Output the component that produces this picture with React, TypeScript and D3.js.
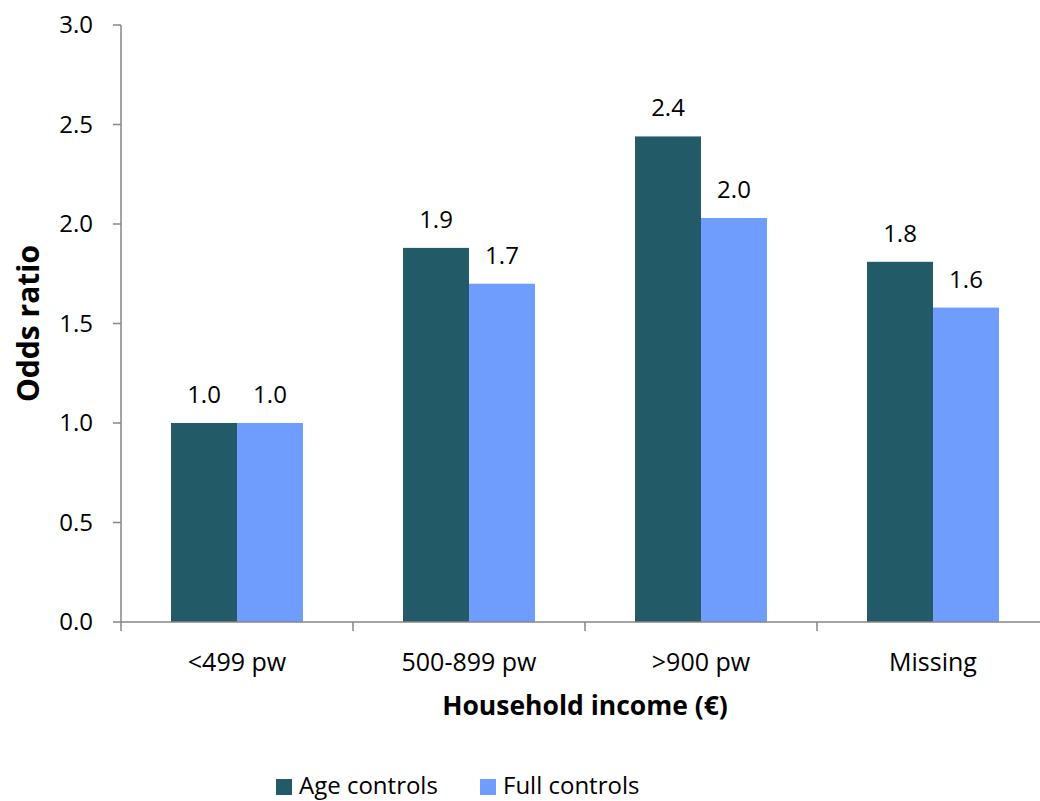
import React from "react";
import * as d3 from "d3";

const categories = ["<499 pw", "500-899 pw", ">900 pw", "Missing"];
const seriesNames = ["Age controls", "Full controls"];
const ageControls = [1.0, 1.88, 2.44, 1.81];
const fullControls = [1.0, 1.7, 2.03, 1.58];
const yTicks = [0, 0.5, 1.0, 1.5, 2.0, 2.5, 3.0];
const colors = ["#235A68", "#6F9DFE"];

const W = 1040;
const H = 801;
const FONT = "'Open Sans', 'DejaVu Sans', sans-serif";

export default function App() {
  const x0 = 121;
  const x1 = 1049;
  const yTop = 25;
  const yBot = 622;
  const x = d3.scaleBand<string>().domain(categories).range([x0, x1]).paddingInner(0).paddingOuter(0);
  const y = d3.scaleLinear().domain([0, 3]).range([yBot, yTop]);
  const inner = d3.scaleBand<string>().domain(seriesNames).range([0, x.bandwidth()]).paddingInner(0).paddingOuter(0.758);
  const series = [ageControls, fullControls];
  const fmt = d3.format(".1f");
  const axisColor = "#868686";

  return (
    <svg width={W} height={H} style={{ position: "absolute", left: 0, top: 0, background: "#fff" }} fontFamily={FONT}>
      {/* bars */}
      {categories.map((c, i) => (
        <g key={c}>
          {seriesNames.map((s, j) => {
            const v = series[j][i];
            const bx = (x(c) as number) + (inner(s) as number);
            return (
              <g key={s}>
                <rect x={bx} y={y(v)} width={inner.bandwidth()} height={y(0) - y(v)} fill={colors[j]} />
                <text x={bx + inner.bandwidth() / 2} y={y(v) - 20} textAnchor="middle" fontSize={24} fill="#000">
                  {fmt(v)}
                </text>
              </g>
            );
          })}
        </g>
      ))}
      {/* y axis */}
      <line x1={x0} x2={x0} y1={yTop} y2={yBot} stroke={axisColor} strokeWidth={1.5} />
      {yTicks.map((t) => (
        <g key={t}>
          <line x1={x0 - 8} x2={x0} y1={y(t)} y2={y(t)} stroke={axisColor} strokeWidth={1.5} />
          <text x={93} y={y(t)} dy="0.35em" textAnchor="end" fontSize={24} fill="#000">
            {fmt(t)}
          </text>
        </g>
      ))}
      {/* x axis */}
      <line x1={x0} x2={x1} y1={yBot} y2={yBot} stroke={axisColor} strokeWidth={1.5} />
      {categories.map((c) => (
        <line key={c} x1={x(c) as number} x2={x(c) as number} y1={yBot} y2={yBot + 9} stroke={axisColor} strokeWidth={1.5} />
      ))}
      <line x1={x1} x2={x1} y1={yBot} y2={yBot + 9} stroke={axisColor} strokeWidth={1.5} />
      {categories.map((c) => (
        <text key={c} x={(x(c) as number) + x.bandwidth() / 2} y={662} dy="0.35em" textAnchor="middle" fontSize={25} fill="#000">
          {c}
        </text>
      ))}
      <text x={(x0 + x1) / 2} y={706} dy="0.35em" textAnchor="middle" fontSize={26.5} fontWeight="bold" fill="#000">
        Household income (€)
      </text>
      <text transform={`translate(28,${(yTop + yBot) / 2}) rotate(-90)`} dy="0.35em" textAnchor="middle" fontSize={30} fontWeight="bold" fill="#000">
        Odds ratio
      </text>
      {/* legend */}
      {seriesNames.map((s, j) => {
        const lx = j === 0 ? 276 : 480;
        return (
          <g key={s}>
            <rect x={lx} y={779} width={16} height={16} fill={colors[j]} />
            <text x={lx + 23} y={794} fontSize={24} fill="#000">
              {s}
            </text>
          </g>
        );
      })}
    </svg>
  );
}
